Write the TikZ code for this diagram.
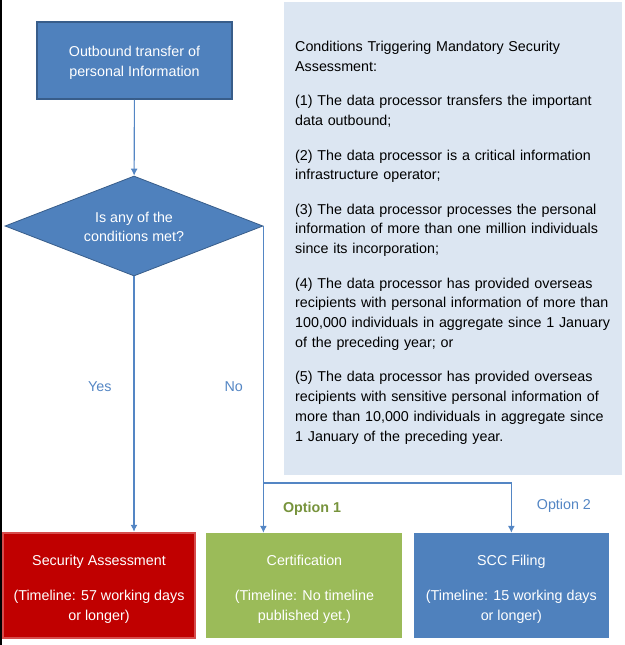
\documentclass[tikz,border=0pt]{standalone}
\usepackage{fontspec}
\setmainfont{Liberation Sans}
\usepackage{xcolor}
\usetikzlibrary{shapes.geometric, positioning, arrows.meta}

\definecolor{boxblue}{RGB}{79,129,189}
\definecolor{edgeblue}{RGB}{56,93,138}
\definecolor{lineblue}{RGB}{84,134,196}
\definecolor{condgray}{RGB}{220,230,242}
\definecolor{secred}{RGB}{192,0,0}
\definecolor{secredge}{RGB}{214,76,76}
\definecolor{certgreen}{RGB}{155,187,89}
\definecolor{optgreen}{RGB}{119,147,60}

\begin{document}
\begin{tikzpicture}[x=1pt, y=-1pt,
  font=\fontsize{14.3}{19.8}\selectfont,
  outcome/.style={rectangle, align=center, text=white, minimum width=195pt, minimum height=105pt, inner sep=0pt},
  link/.style={lineblue, line width=1.1pt},
  arr/.style={link, -{Latex[length=7pt, width=7pt]}},
  tag/.style={inner sep=0pt, text=lineblue}]
\useasboundingbox (0,0) rectangle (624,645);
\draw[black, line width=2pt] (1,0) -- (1,645); % left edge
%
\node[rectangle, fill=boxblue, draw=edgeblue, line width=1.5pt, text=white, align=center, minimum width=195pt, minimum height=77pt, inner sep=0pt] (start) at (134.5,60.5) {\rule{0pt}{15.5pt}Outbound transfer of\\personal Information};
\node[diamond, fill=boxblue, draw=edgeblue, line width=0.8pt, text=white, align=center, aspect=2.58, minimum width=258pt, minimum height=100pt, inner sep=0pt] (check) at (134,226) {\rule{0pt}{12pt}Is any of the\\conditions met?};
%
\node[fill=condgray, anchor=north west, minimum width=338pt, minimum height=473pt, text width=316pt, inner xsep=11pt, align=left] (cond) at (284,2) {\rule{0pt}{18.5pt}Conditions Triggering Mandatory Security\\Assessment:\\[14.5pt]
(1) The data processor transfers the important\\data outbound;\\[14.5pt]
(2) The data processor is a critical information\\infrastructure operator;\\[14.5pt]
(3) The data processor processes the personal\\information of more than one million individuals\\since its incorporation;\\[14.5pt]
(4) The data processor has provided overseas\\recipients with personal information of more than\\100,000 individuals in aggregate since 1 January\\of the preceding year; or\\[14.5pt]
(5) The data processor has provided overseas\\recipients with sensitive personal information of\\more than 10,000 individuals in aggregate since\\1 January of the preceding year.};
%
\node[outcome, fill=secred, draw=secredge, line width=2.5pt, minimum width=192pt] (secassess) at (99,585.5) {\rule{0pt}{18.5pt}Security Assessment\\[15pt](Timeline: 57 working days\\or longer)};
\node[outcome, fill=certgreen, minimum width=196pt, right=10pt of secassess] (cert) {\rule{0pt}{18.5pt}Certification\\[15pt](Timeline: No timeline\\published yet.)};
\node[outcome, fill=boxblue, right=11pt of cert] (scc) {\rule{0pt}{18.5pt}SCC Filing\\[15pt](Timeline: 15 working days\\or longer)};
%
\draw[arr] (start) -- (check);
\draw[arr] (check.south) -- (check.south |- secassess.north) node[tag, pos=0.43, left=22pt] (yes) {Yes};
\draw[arr] (check.east) -- (check.east |- cert.north) node[tag, pos=0.524, left=20pt] (no) {No};
\coordinate (fork) at (check.east |- 0,483);
\draw[arr] (fork) -| (scc.north) node[tag, pos=0.098, below=18.7pt, text=optgreen, font=\fontsize{14.3}{19.8}\selectfont\bfseries] (opt1) {Option 1} node[tag, pos=0.725, right=25pt] (opt2) {Option 2};
\end{tikzpicture}
\end{document}
